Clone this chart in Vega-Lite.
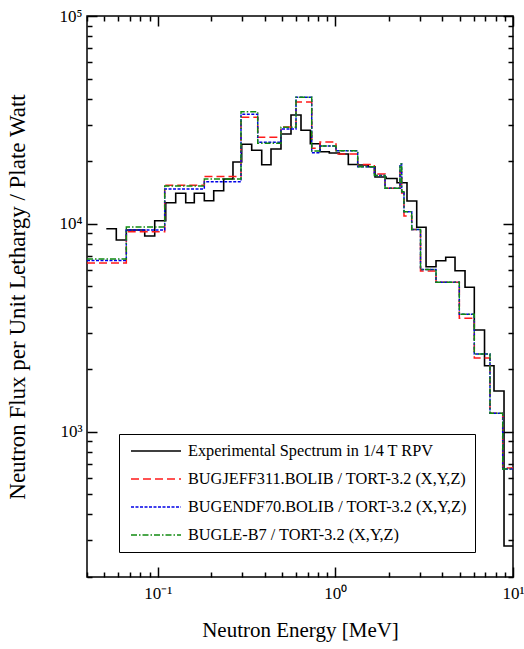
{
  "$schema": "https://vega.github.io/schema/vega-lite/v6.json",
  "width": 426,
  "height": 561,
  "autosize": {"type": "none"},
  "padding": {"left": 87, "top": 16, "right": 11, "bottom": 72},
  "background": "white",
  "config": {
    "view": {"stroke": "black", "strokeWidth": 1.5},
    "font": "Liberation Serif",
    "axis": {
      "grid": false, "domain": false, "tickColor": "black", "tickWidth": 1.5,
      "labelColor": "black", "titleColor": "black",
      "labelFont": "Liberation Serif", "titleFont": "Liberation Serif",
      "labelFontSize": 17, "titleFontSize": 21, "titleFontWeight": "normal",
      "labelFlush": false, "labelOverlap": false, "labelBound": false
    },
    "legend": {
      "orient": "none", "legendX": 32, "legendY": 418, "title": null,
      "strokeColor": "black", "fillColor": "white", "padding": 8,
      "symbolType": "stroke", "symbolSize": 2500, "symbolStrokeWidth": 1.5, "symbolOffset": 3,
      "labelFont": "Liberation Serif", "labelFontSize": 16.3, "labelColor": "black", "labelLimit": 400,
      "labelOffset": 6, "rowPadding": 10, "clipHeight": 18
    }
  },
  "data": {"values": [
    {"s":"A","x":0.05137,"y":9478},{"s":"A","x":0.05848,"y":8362},{"s":"A","x":0.06658,"y":9342},{"s":"A","x":0.08452,"y":8740},
    {"s":"A","x":0.09621,"y":10350},{"s":"A","x":0.1110,"y":12640},{"s":"A","x":0.1263,"y":14030},{"s":"A","x":0.1438,"y":12640},
    {"s":"A","x":0.1607,"y":14030},{"s":"A","x":0.1830,"y":12920},{"s":"A","x":0.2067,"y":14440},{"s":"A","x":0.2352,"y":16440},
    {"s":"A","x":0.2653,"y":19840},{"s":"A","x":0.2971,"y":24140},{"s":"A","x":0.3382,"y":22590},{"s":"A","x":0.3851,"y":19260},
    {"s":"A","x":0.4343,"y":22910},{"s":"A","x":0.4943,"y":27060},{"s":"A","x":0.5628,"y":33400},{"s":"A","x":0.6407,"y":28190},
    {"s":"A","x":0.7231,"y":24300},{"s":"A","x":0.8199,"y":22240},{"s":"A","x":0.9247,"y":21920},{"s":"A","x":1.0527,"y":21680},
    {"s":"A","x":1.183,"y":19300},{"s":"A","x":1.347,"y":19200},{"s":"A","x":1.532,"y":18840},{"s":"A","x":1.672,"y":16800},
    {"s":"A","x":1.929,"y":16530},{"s":"A","x":2.224,"y":15780},{"s":"A","x":2.531,"y":12880},{"s":"A","x":2.871,"y":9625},
    {"s":"A","x":3.24,"y":6220},{"s":"A","x":3.687,"y":6650},{"s":"A","x":4.181,"y":6905},{"s":"A","x":4.717,"y":5951},
    {"s":"A","x":5.370,"y":4951},{"s":"A","x":6.056,"y":3085},{"s":"A","x":6.914,"y":2077},{"s":"A","x":7.817,"y":1570},
    {"s":"A","x":8.901,"y":282},{"s":"A","x":10,"y":282},

    {"s":"B","x":0.04,"y":6481},{"s":"B","x":0.06658,"y":9167},{"s":"B","x":0.1095,"y":15330},{"s":"B","x":0.1830,"y":16900},
    {"s":"B","x":0.2944,"y":32550},{"s":"B","x":0.3656,"y":26090},{"s":"B","x":0.4943,"y":29240},{"s":"B","x":0.6006,"y":38580},
    {"s":"B","x":0.7362,"y":23090},{"s":"B","x":0.8199,"y":24770},{"s":"B","x":1.0085,"y":21680},{"s":"B","x":1.336,"y":19300},
    {"s":"B","x":1.657,"y":17370},{"s":"B","x":1.904,"y":14830},{"s":"B","x":2.312,"y":17770},{"s":"B","x":2.363,"y":14070},
    {"s":"B","x":2.434,"y":10910},{"s":"B","x":2.691,"y":9393},{"s":"B","x":3.016,"y":5932},{"s":"B","x":3.687,"y":5234},
    {"s":"B","x":4.987,"y":3512},{"s":"B","x":6.056,"y":2262},{"s":"B","x":7.421,"y":1226},{"s":"B","x":8.752,"y":669},
    {"s":"B","x":10,"y":669},

    {"s":"C","x":0.04,"y":6665},{"s":"C","x":0.06658,"y":9342},{"s":"C","x":0.1095,"y":14710},{"s":"C","x":0.1830,"y":15950},
    {"s":"C","x":0.2944,"y":33660},{"s":"C","x":0.3656,"y":24680},{"s":"C","x":0.4943,"y":28600},{"s":"C","x":0.6006,"y":40630},
    {"s":"C","x":0.7362,"y":21990},{"s":"C","x":0.8199,"y":23690},{"s":"C","x":1.0085,"y":22480},{"s":"C","x":1.336,"y":18840},
    {"s":"C","x":1.657,"y":17080},{"s":"C","x":1.904,"y":14830},{"s":"C","x":2.312,"y":19410},{"s":"C","x":2.363,"y":14280},
    {"s":"C","x":2.434,"y":11440},{"s":"C","x":2.691,"y":9393},{"s":"C","x":3.016,"y":6031},{"s":"C","x":3.687,"y":5234},
    {"s":"C","x":4.987,"y":3671},{"s":"C","x":6.056,"y":2364},{"s":"C","x":7.421,"y":1226},{"s":"C","x":8.752,"y":662},
    {"s":"C","x":10,"y":662},

    {"s":"D","x":0.04,"y":6776},{"s":"D","x":0.06658,"y":9656},{"s":"D","x":0.1095,"y":15210},{"s":"D","x":0.1830,"y":16440},
    {"s":"D","x":0.2944,"y":34640},{"s":"D","x":0.3656,"y":24410},{"s":"D","x":0.4943,"y":29140},{"s":"D","x":0.6006,"y":40630},
    {"s":"D","x":0.7362,"y":22410},{"s":"D","x":0.8199,"y":23690},{"s":"D","x":1.0085,"y":22480},{"s":"D","x":1.336,"y":18840},
    {"s":"D","x":1.657,"y":17080},{"s":"D","x":1.904,"y":14830},{"s":"D","x":2.312,"y":19410},{"s":"D","x":2.363,"y":14280},
    {"s":"D","x":2.434,"y":11440},{"s":"D","x":2.691,"y":9393},{"s":"D","x":3.016,"y":6031},{"s":"D","x":3.687,"y":5234},
    {"s":"D","x":4.987,"y":3671},{"s":"D","x":6.056,"y":2364},{"s":"D","x":7.421,"y":1226},{"s":"D","x":8.752,"y":662},
    {"s":"D","x":10,"y":662}
  ]},
  "layer": [
    {
      "mark": {"type": "line", "interpolate": "step-after", "clip": true},
      "encoding": {
        "x": {"field": "x", "type": "quantitative",
          "scale": {"type": "log", "domain": [0.04, 10], "nice": false},
          "axis": {"orient": "bottom", "values": [0.1, 1, 10], "tickSize": -10, "labelPadding": 18,
            "labelExpr": "datum.value < 0.5 ? '10⁻¹' : datum.value < 5 ? '10⁰' : '10¹'",
            "title": "Neutron Energy [MeV]", "titlePadding": 18}},
        "y": {"field": "y", "type": "quantitative",
          "scale": {"type": "log", "domain": [200, 100000], "nice": false},
          "axis": {"orient": "left", "values": [1000, 10000, 100000], "tickSize": -10, "labelPadding": 15,
            "labelExpr": "datum.value < 5000 ? '10³' : datum.value < 50000 ? '10⁴' : '10⁵'",
            "title": "Neutron Flux per Unit Lethargy / Plate Watt", "titleFontSize": 23, "titlePadding": 30}},
        "color": {"field": "s", "type": "nominal",
          "scale": {"domain": ["A", "B", "C", "D"], "range": ["#000000", "#ff1a1a", "#0000e6", "#118a11"]},
          "legend": {
            "labelExpr": "datum.value == 'A' ? 'Experimental Spectrum in 1/4 T RPV' : datum.value == 'B' ? 'BUGJEFF311.BOLIB / TORT-3.2 (X,Y,Z)' : datum.value == 'C' ? 'BUGENDF70.BOLIB / TORT-3.2 (X,Y,Z)' : 'BUGLE-B7 / TORT-3.2 (X,Y,Z)'"}},
        "strokeDash": {"field": "s", "type": "nominal",
          "scale": {"domain": ["A", "B", "C", "D"], "range": [[1, 0], [8, 4], [3, 1.5], [6, 2, 1.5, 2]]},
          "legend": {
            "labelExpr": "datum.value == 'A' ? 'Experimental Spectrum in 1/4 T RPV' : datum.value == 'B' ? 'BUGJEFF311.BOLIB / TORT-3.2 (X,Y,Z)' : datum.value == 'C' ? 'BUGENDF70.BOLIB / TORT-3.2 (X,Y,Z)' : 'BUGLE-B7 / TORT-3.2 (X,Y,Z)'"}},
        "strokeWidth": {"field": "s", "type": "nominal",
          "scale": {"domain": ["A", "B", "C", "D"], "range": [1.6, 1.4, 1.4, 1.4]}, "legend": null}
      }
    },
    {
      "mark": {"type": "point", "opacity": 0},
      "encoding": {
        "x": {"field": "x", "type": "quantitative",
          "scale": {"type": "log", "domain": [0.04, 10], "nice": false},
          "axis": {"orient": "bottom", "values": [0.04,0.05,0.06,0.07,0.08,0.09,0.2,0.3,0.4,0.5,0.6,0.7,0.8,0.9,2,3,4,5,6,7,8,9], "tickSize": -5, "labels": false, "title": null}},
        "y": {"field": "y", "type": "quantitative",
          "scale": {"type": "log", "domain": [200, 100000], "nice": false},
          "axis": {"orient": "left", "values": [200,300,400,500,600,700,800,900,2000,3000,4000,5000,6000,7000,8000,9000,20000,30000,40000,50000,60000,70000,80000,90000], "tickSize": -5, "labels": false, "title": null}}
      }
    },
    {
      "mark": {"type": "point", "opacity": 0},
      "encoding": {
        "x": {"field": "x", "type": "quantitative",
          "scale": {"type": "log", "domain": [0.04, 10], "nice": false},
          "axis": {"orient": "top", "values": [0.1, 1, 10], "tickSize": -10, "labels": false, "title": null}},
        "y": {"field": "y", "type": "quantitative",
          "scale": {"type": "log", "domain": [200, 100000], "nice": false},
          "axis": {"orient": "right", "values": [1000, 10000, 100000], "tickSize": -10, "labels": false, "title": null}}
      }
    },
    {
      "mark": {"type": "point", "opacity": 0},
      "encoding": {
        "x": {"field": "x", "type": "quantitative",
          "scale": {"type": "log", "domain": [0.04, 10], "nice": false},
          "axis": {"orient": "top", "values": [0.04,0.05,0.06,0.07,0.08,0.09,0.2,0.3,0.4,0.5,0.6,0.7,0.8,0.9,2,3,4,5,6,7,8,9], "tickSize": -5, "labels": false, "title": null}},
        "y": {"field": "y", "type": "quantitative",
          "scale": {"type": "log", "domain": [200, 100000], "nice": false},
          "axis": {"orient": "right", "values": [200,300,400,500,600,700,800,900,2000,3000,4000,5000,6000,7000,8000,9000,20000,30000,40000,50000,60000,70000,80000,90000], "tickSize": -5, "labels": false, "title": null}}
      }
    }
  ],
  "resolve": {"axis": {"x": "independent", "y": "independent"}}
}
